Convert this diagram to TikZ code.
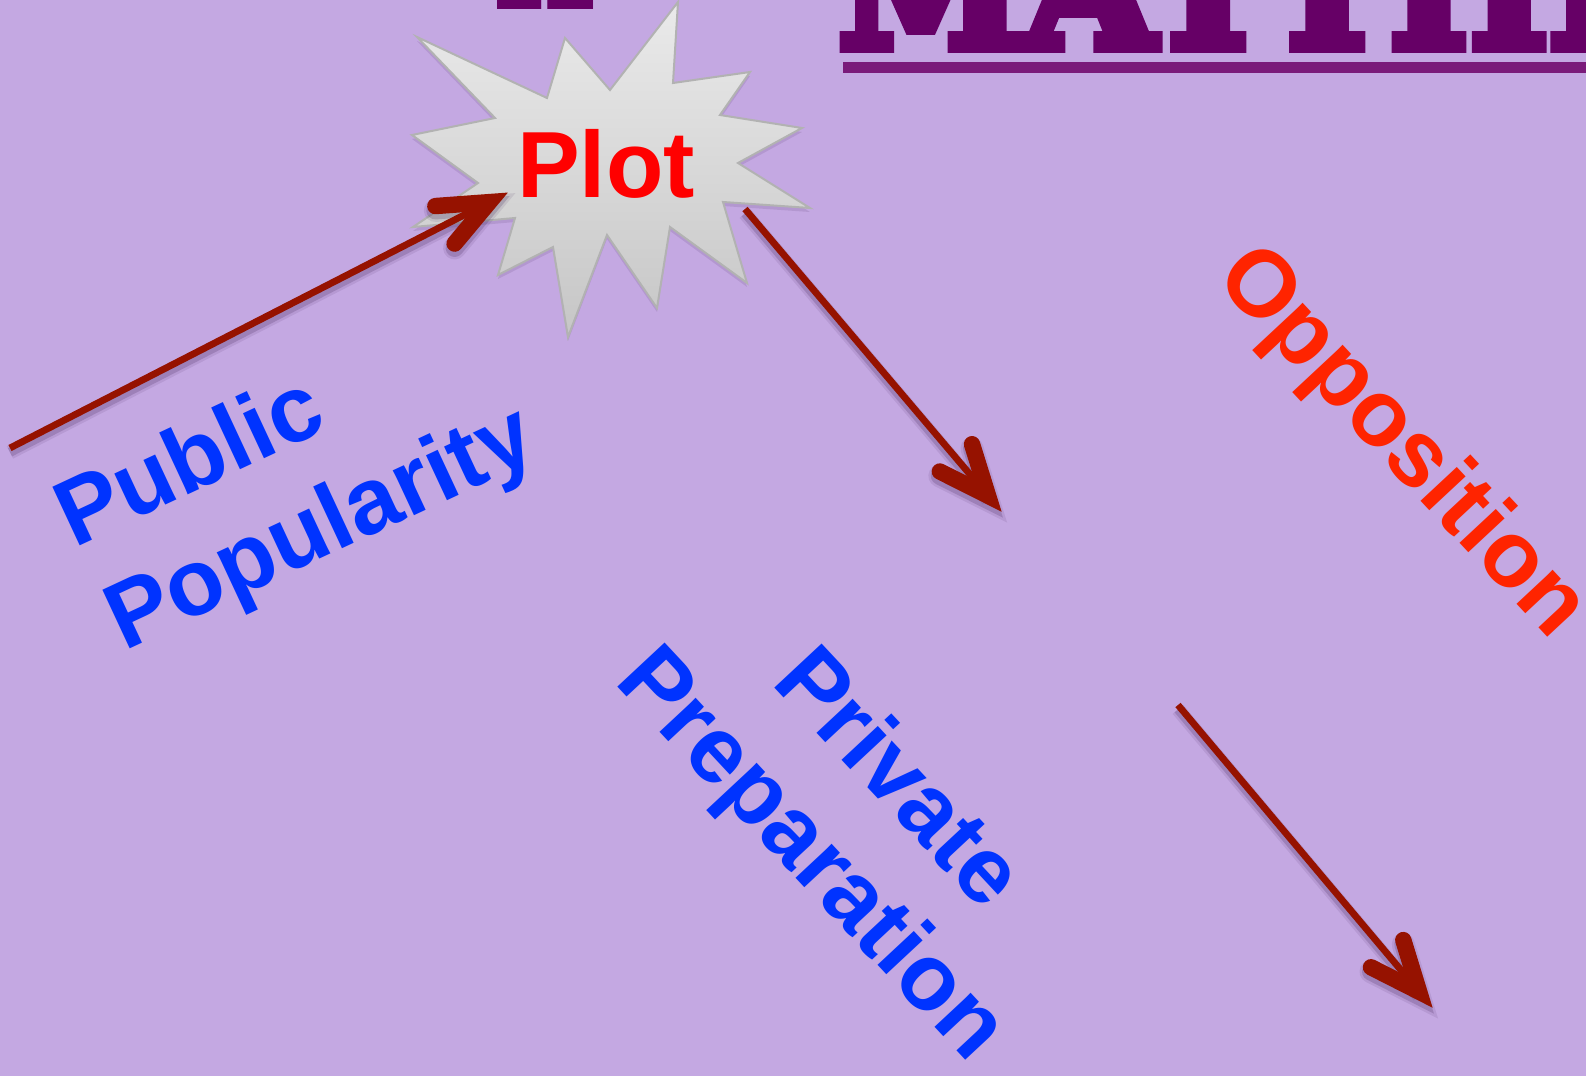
\documentclass[tikz,border=0pt]{standalone}
\usepackage{fontspec}
\setmainfont{Liberation Sans}
\newfontfamily\titlefont[FakeBold=7]{DejaVu Serif Bold}
\usetikzlibrary{calc}
\definecolor{bg}{RGB}{196,168,226}
\definecolor{arrowred}{RGB}{150,18,0}
\definecolor{txtblue}{RGB}{0,51,255}
\definecolor{plotred}{RGB}{255,0,0}
\definecolor{oppred}{RGB}{255,36,0}
\definecolor{titlepurple}{RGB}{102,0,102}
\definecolor{linepurple}{RGB}{122,26,122}
\definecolor{starborder}{RGB}{178,178,178}
\definecolor{startop}{RGB}{234,234,234}
\definecolor{starbot}{RGB}{198,198,198}
\definecolor{shadowcol}{RGB}{60,30,80}
\newcommand\ppArrow[2]{%
  \coordinate (v) at ($(#2)!10pt!(#1)$);
  \coordinate (b1) at ($(v)!27pt!23:(#1)$);
  \coordinate (b2) at ($(v)!27pt!-23:(#1)$);
  \begin{scope}[transform canvas={yshift=-2.2pt}]
    \draw[shadowcol, opacity=0.10, line width=7pt] (#1) -- (v);
    \draw[shadowcol, opacity=0.10, line width=11.5pt, line cap=round] (b1) -- (v) -- (b2);
    \draw[shadowcol, opacity=0.20, line width=4.5pt] (#1) -- (v);
    \draw[shadowcol, opacity=0.20, line width=9pt, line cap=round] (b1) -- (v) -- (b2);
  \end{scope}
  \draw[shaft] (#1) -- (v);
  \draw[barb] (b1) -- (v) -- (b2);
}
\newcommand\starpath{(678,2) -- (673,83) -- (750,72) -- (720,115) -- (802,128) -- (738,163) -- (810,208) -- (723,202) -- (747,283) -- (670,227) -- (657,308) -- (607,235) -- (568,337) -- (553,247) -- (498,275) -- (515,218) -- (413,227) -- (478,183) -- (412,135) -- (495,118) -- (417,37) -- (547,98) -- (565,38) -- (610,90) -- cycle}
\begin{document}
\begin{tikzpicture}[x=0.5pt,y=-0.5pt,
  lbl/.style={font=\fontsize{47}{56}\selectfont\bfseries, inner sep=0pt, outer sep=0pt},
  shaft/.style={draw=arrowred, line width=3.4pt, line cap=butt},
  barb/.style={draw=arrowred, line width=8.2pt, line cap=round, line join=miter},
]
\fill[bg] (0,0) rectangle (1586,1076);
\useasboundingbox (0,0) rectangle (1586,1076);
% title and number
\node[font=\fontsize{47.5}{56}\selectfont\bfseries, text=titlepurple, anchor=base west, inner sep=0pt] (num) at (491,10) {12};
\node[font=\titlefont\fontsize{84}{100}\selectfont, text=titlepurple, anchor=base west, inner sep=0pt] (title) at (838,47) {MATTHEW};
\fill[linepurple] (843,62) rectangle (1586,73);
% star
\begin{scope}[transform canvas={yshift=-2pt}]
  \fill[shadowcol, opacity=0.12] \starpath;
\end{scope}
\path[draw=starborder, line width=1pt, top color=startop, bottom color=starbot, line join=miter] \starpath;
% arrows
\coordinate (p1s) at (10,448);   \coordinate (p1t) at (507,193);
\coordinate (p2s) at (745,209);  \coordinate (p2t) at (1001,511);
\coordinate (p3s) at (1178,705); \coordinate (p3t) at (1432,1007);
\ppArrow{p1s}{p1t}
\ppArrow{p2s}{p2t}
\ppArrow{p3s}{p3t}
% labels
\node[lbl, text=plotred, anchor=base] (plot) at (606,197) {Plot};
\node[lbl, text=txtblue, rotate=25, anchor=base west] (public) at (74,548) {Public};
\node[lbl, text=txtblue, rotate=25, anchor=base west] (popularity) at (124,651) {Popularity};
\node[lbl, text=txtblue, rotate=-47, anchor=base west] (private) at (770,683) {Private};
\node[lbl, text=txtblue, rotate=-47, anchor=base west] (preparation) at (613,682) {Preparation};
\node[lbl, text=oppred, rotate=-47, anchor=base west] (opposition) at (1213,279) {Opposition};
\end{tikzpicture}
\end{document}
